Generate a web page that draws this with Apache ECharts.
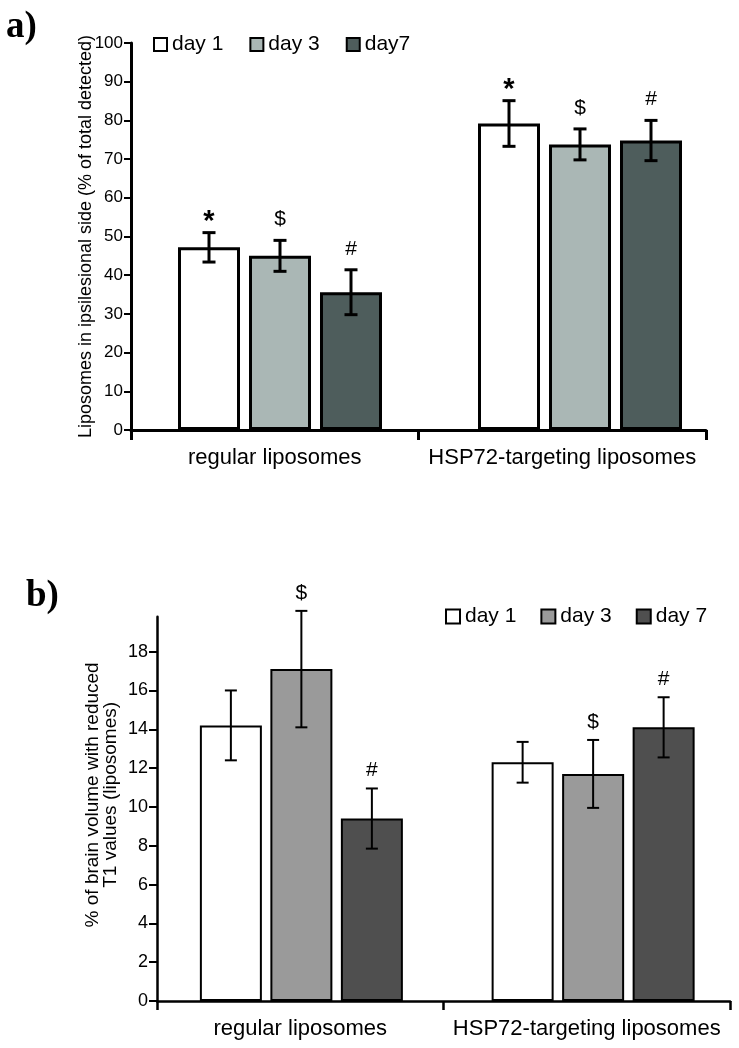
<!DOCTYPE html>
<html>
<head>
<meta charset="utf-8">
<script src="https://cdn.jsdelivr.net/npm/echarts@6/dist/echarts.min.js"></script>
<style>
html,body{margin:0;padding:0;background:#fff;}
#chart{width:739px;height:1048px;}
</style>
</head>
<body>
<div id="chart"></div>
<script>
// ---------- data ----------
const categories = ['regular liposomes', 'HSP72-targeting liposomes'];

// panel a
const namesA = ['day 1', 'day 3', 'day7'];
const a_day1 = [47.2, 79.2];
const a_day3 = [45.0, 73.8];
const a_day7 = [35.6, 74.8];
const a_err_day1 = [3.8, 5.9];
const a_err_day3 = [4.0, 4.0];
const a_err_day7 = [5.8, 5.2];
const marksA = ['*', '$', '#'];
const yTicksA = [0, 10, 20, 30, 40, 50, 60, 70, 80, 90, 100];

// panel b
const namesB = ['day 1', 'day 3', 'day 7'];
const b_day1 = [14.2, 12.3];
const b_day3 = [17.1, 11.7];
const b_day7 = [9.4, 14.1];
const b_err_day1 = [1.8, 1.05];
const b_err_day3 = [3.0, 1.75];
const b_err_day7 = [1.55, 1.55];
const marksB = ['', '$', '#'];
const yTicksB = [0, 2, 4, 6, 8, 10, 12, 14, 16, 18];
const yMaxB = 19.8;

// ---------- styling ----------
const FONT = 'Liberation Sans, Arial, sans-serif';
const colorsA = ['#ffffff', '#aab7b5', '#4e5d5c'];
const colorsB = ['#ffffff', '#9a9a9a', '#4f4f4f'];

const BAR_W_A = 62, STEP_A = 71, BORDER_A = 3;
const BAR_W_B = 62, STEP_B = 70.5, BORDER_B = 2;

const chart = echarts.init(document.getElementById('chart'), null, {renderer: 'canvas'});

function errRenderer(offset, capHalf, lw, mark, markFont, markDy) {
  return function (params, api) {
    const c = api.value(0), lo = api.value(1), hi = api.value(2);
    const pLo = api.coord([c, lo]);
    const pHi = api.coord([c, hi]);
    const x = pLo[0] + offset;
    const st = {stroke: '#000', lineWidth: lw};
    const children = [
      {type: 'line', shape: {x1: x, y1: pLo[1], x2: x, y2: pHi[1]}, style: st},
      {type: 'line', shape: {x1: x - capHalf, y1: pLo[1], x2: x + capHalf, y2: pLo[1]}, style: st},
      {type: 'line', shape: {x1: x - capHalf, y1: pHi[1], x2: x + capHalf, y2: pHi[1]}, style: st}
    ];
    if (mark) {
      children.push({
        type: 'text',
        style: {text: mark, x: x, y: pHi[1] - markDy, font: markFont, fill: '#000',
                align: 'center', verticalAlign: 'middle'}
      });
    }
    return {type: 'group', children: children};
  };
}

function errData(means, errs) {
  return means.map((m, i) => [i, m - errs[i], m + errs[i]]);
}

const meansA = [a_day1, a_day3, a_day7];
const errsA = [a_err_day1, a_err_day3, a_err_day7];
const meansB = [b_day1, b_day3, b_day7];
const errsB = [b_err_day1, b_err_day3, b_err_day7];

const series = [];
for (let k = 0; k < 3; k++) {
  series.push({
    name: namesA[k], type: 'bar', xAxisIndex: 1, yAxisIndex: 1,
    data: meansA[k], barWidth: BAR_W_A,
    barGap: ((STEP_A - BAR_W_A) / BAR_W_A * 100) + '%',
    itemStyle: {color: colorsA[k], borderColor: '#000', borderWidth: BORDER_A},
    emphasis: {disabled: true}, silent: true
  });
}
for (let k = 0; k < 3; k++) {
  const isStar = marksA[k] === '*';
  series.push({
    type: 'custom', xAxisIndex: 1, yAxisIndex: 1, z: 5, silent: true,
    data: errData(meansA[k], errsA[k]),
    renderItem: errRenderer((k - 1) * STEP_A, 6.5, 3, marksA[k],
      isStar ? 'bold 29px ' + FONT : '21px ' + FONT, isStar ? 11 : 21)
  });
}
for (let k = 0; k < 3; k++) {
  series.push({
    name: 'b:' + namesB[k], type: 'bar', xAxisIndex: 3, yAxisIndex: 3,
    data: meansB[k], barWidth: BAR_W_B,
    barGap: ((STEP_B - BAR_W_B) / BAR_W_B * 100) + '%',
    itemStyle: {color: colorsB[k], borderColor: '#000', borderWidth: BORDER_B},
    emphasis: {disabled: true}, silent: true
  });
}
for (let k = 0; k < 3; k++) {
  series.push({
    type: 'custom', xAxisIndex: 3, yAxisIndex: 3, z: 5, silent: true,
    data: errData(meansB[k], errsB[k]),
    renderItem: errRenderer((k - 1) * STEP_B, 6, 2, marksB[k], '21px ' + FONT, 18)
  });
}

const option = {
  animation: false,
  backgroundColor: '#fff',
  textStyle: {fontFamily: FONT, color: '#000'},
  grid: [
    {left: 131, width: 575, top: 43, height: 387},
    {left: 130, width: 600, top: 43, height: 387},
    {left: 157, width: 573, top: 616.7, height: 384.3},
    {left: 155.5, width: 600, top: 616.7, height: 384.3}
  ],
  legend: [
    {
      data: namesA, left: 148, top: 29, itemWidth: 13, itemHeight: 13, itemGap: 26,
      icon: 'rect', textStyle: {fontSize: 21, color: '#000', fontFamily: FONT},
      selectedMode: false
    },
    {
      data: namesB.map(n => 'b:' + n), left: 440, top: 601, itemWidth: 14, itemHeight: 14, itemGap: 24,
      icon: 'rect', formatter: n => n.replace('b:', ''),
      textStyle: {fontSize: 21, color: '#000', fontFamily: FONT},
      selectedMode: false
    }
  ],
  xAxis: [
    {
      type: 'category', gridIndex: 0, data: categories, boundaryGap: true,
      axisLine: {show: true, lineStyle: {color: '#000', width: 3}},
      axisTick: {show: true, length: 10, lineStyle: {color: '#000', width: 3}},
      axisLabel: {fontSize: 22, margin: 17, color: '#000', fontFamily: FONT, interval: 0},
      splitLine: {show: false}
    },
    {type: 'category', gridIndex: 1, data: categories, show: false},
    {
      type: 'category', gridIndex: 2, data: categories, boundaryGap: true,
      axisLine: {show: true, lineStyle: {color: '#000', width: 2.5}},
      axisTick: {show: true, length: 9, lineStyle: {color: '#000', width: 2.5}},
      axisLabel: {fontSize: 22, margin: 17, color: '#000', fontFamily: FONT, interval: 0},
      splitLine: {show: false}
    },
    {type: 'category', gridIndex: 3, data: categories, show: false}
  ],
  yAxis: [
    {
      type: 'value', gridIndex: 0, min: yTicksA[0], max: yTicksA[yTicksA.length - 1], interval: 10,
      axisLine: {show: true, lineStyle: {color: '#000', width: 3}},
      axisTick: {show: true, length: 7, lineStyle: {color: '#000', width: 2}},
      axisLabel: {fontSize: 17, margin: 8, color: '#000', fontFamily: FONT},
      splitLine: {show: false},
      name: 'Liposomes in ipsilesional side (% of total detected)',
      nameLocation: 'middle', nameGap: 36, nameMoveOverlap: false,
      nameTextStyle: {fontSize: 18, color: '#000', fontFamily: FONT}
    },
    {type: 'value', gridIndex: 1, min: 0, max: 100, show: false},
    {
      type: 'value', gridIndex: 2, min: 0, max: yMaxB, interval: 2,
      axisLine: {show: true, lineStyle: {color: '#000', width: 2.5}},
      axisTick: {show: true, length: 8, lineStyle: {color: '#000', width: 2}, customValues: yTicksB},
      axisLabel: {fontSize: 18, margin: 9, color: '#000', fontFamily: FONT, customValues: yTicksB},
      splitLine: {show: false},
      name: '% of brain volume with reduced\nT1 values (liposomes)',
      nameLocation: 'middle', nameGap: 37, nameMoveOverlap: false,
      nameTextStyle: {fontSize: 19, lineHeight: 18, color: '#000', fontFamily: FONT, padding: [0, 0, 0, 28]}
    },
    {type: 'value', gridIndex: 3, min: 0, max: yMaxB, show: false}
  ],
  graphic: [
    {type: 'text', left: 6, top: 9, style: {text: 'a)', font: 'bold 37px "Liberation Serif", "Times New Roman", serif', fill: '#000'}},
    {type: 'text', left: 26, top: 578, style: {text: 'b)', font: 'bold 37px "Liberation Serif", "Times New Roman", serif', fill: '#000'}}
  ],
  series: series
};

chart.setOption(option);
</script>
</body>
</html>
